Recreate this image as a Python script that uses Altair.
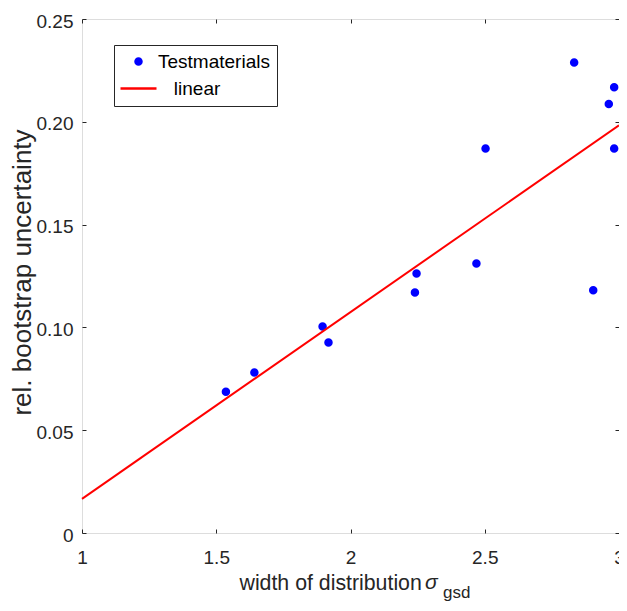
import altair as alt
import pandas as pd

# ---- data ----
sigma_gsd = [1.536, 1.642, 1.896, 1.918, 2.240, 2.246, 2.469, 2.503, 2.833, 2.904, 2.962, 2.982, 2.982]
rel_unc = [0.0687, 0.0781, 0.1004, 0.0927, 0.1170, 0.1262, 0.1311, 0.1870, 0.2288, 0.1181, 0.2087, 0.2168, 0.1870]
fit_x = [1.0, 3.0]
fit_y = [0.0166, 0.1983]
x_ticks = [1, 1.5, 2, 2.5, 3]
y_ticks = [0, 0.05, 0.10, 0.15, 0.20, 0.25]
series = ["Testmaterials", "linear"]
colors = ["#0000ff", "#ff0000"]
shapes = ["circle", "M-6,0H6"]
x_title = "width of distribution"
x_title_symbol = ["\u03c3"]
x_title_sub = ["gsd"]
y_title = "rel. bootstrap uncertainty"

pts = pd.DataFrame({"x": sigma_gsd, "y": rel_unc, "series": series[0]})
fit = pd.DataFrame({"x": fit_x, "y": fit_y, "series": series[1]})

font = "Liberation Sans"
ink = "#262626"

xscale = alt.Scale(domain=[1, 3], nice=False, zero=False)
yscale = alt.Scale(domain=[0, 0.25], nice=False, zero=False)
color_scale = alt.Scale(domain=series, range=colors)
shape_scale = alt.Scale(domain=series, range=shapes)

legend = alt.Legend(
    title=None, orient="none", legendX=32, legendY=26,
    fillColor="white", strokeColor=ink, padding=7,
    labelFont=font, labelFontSize=19, labelColor="black",
    labelOffset=10, symbolOffset=8, symbolSize=36, symbolStrokeWidth=2.5,
    rowPadding=7,
    labelExpr="datum.label == 'linear' ? '\u200b\u00a0\u00a0\u00a0linear' : datum.label",
)

x_axis = alt.Axis(
    orient="bottom", values=x_ticks, format="~g", grid=False, domain=False,
    tickSize=4, tickColor=ink, offset=-4, labelFlush=False,
    labelPadding=15, labelFont=font, labelFontSize=19, labelColor=ink,
    title=x_title, titleFont=font, titleFontSize=21.3, titleFontWeight="normal",
    titleColor=ink, titleX=157, titleY=60, titleAlign="left",
    titleAnchor="start", titleBaseline="alphabetic",
)
y_axis = alt.Axis(
    orient="left", values=y_ticks, grid=False, domain=False,
    labelExpr="datum.value == 0 ? '0' : format(datum.value, '.2f')",
    tickSize=4, tickColor=ink, offset=-4, labelFlush=False, labelOffset=2,
    labelPadding=9, labelFont=font, labelFontSize=19, labelColor=ink,
    title=y_title, titleFont=font, titleFontSize=26, titleFontWeight="normal",
    titleColor=ink, titleX=-56, titleY=253, titleAlign="center",
    titleBaseline="alphabetic", titleAngle=270,
)

points = alt.Chart(pts).mark_point(filled=True, size=36, strokeWidth=2.5, opacity=1).encode(
    x=alt.X("x:Q", scale=xscale, axis=x_axis),
    y=alt.Y("y:Q", scale=yscale, axis=y_axis),
    color=alt.Color("series:N", scale=color_scale, legend=legend),
    stroke=alt.Stroke("series:N", scale=color_scale, legend=legend),
    shape=alt.Shape("series:N", scale=shape_scale, legend=legend),
)

line = alt.Chart(fit).mark_line(strokeWidth=2).encode(
    x=alt.X("x:Q", scale=xscale, axis=None),
    y=alt.Y("y:Q", scale=yscale, axis=None),
    color=alt.Color("series:N", scale=color_scale, legend=legend),
)

frame = alt.Chart(pts).mark_point(opacity=0).encode(
    x=alt.X("x:Q", scale=xscale, axis=alt.Axis(
        orient="top", values=x_ticks, labels=False, title=None, grid=False,
        domain=False, tickSize=4, tickColor=ink, offset=-4)),
    y=alt.Y("y:Q", scale=yscale, axis=alt.Axis(
        orient="right", values=y_ticks, labels=False, title=None, grid=False,
        domain=False, tickSize=4, tickColor=ink, offset=-4)),
)

sigma = alt.Chart(pd.DataFrame({"t": x_title_symbol})).mark_text(
    font=font, fontSize=21, fontStyle="italic", align="left",
    baseline="alphabetic", color=ink,
).encode(x=alt.value(343), y=alt.value(570), text="t:N")

sub = alt.Chart(pd.DataFrame({"t": x_title_sub})).mark_text(
    font=font, fontSize=17, align="left", baseline="alphabetic", color=ink,
).encode(x=alt.value(361), y=alt.value(579), text="t:N")

chart = alt.layer(points, line, frame, sigma, sub).resolve_axis(
    x="independent", y="independent"
).properties(
    width=537, height=514,
    autosize=alt.AutoSizeParams(type="none"),
    padding={"left": 74, "top": 11, "right": 0, "bottom": 70},
).configure_view(stroke=ink, strokeWidth=1).configure(background="white")

chart.save("out.html", embed_options={"renderer": "svg", "actions": False})
